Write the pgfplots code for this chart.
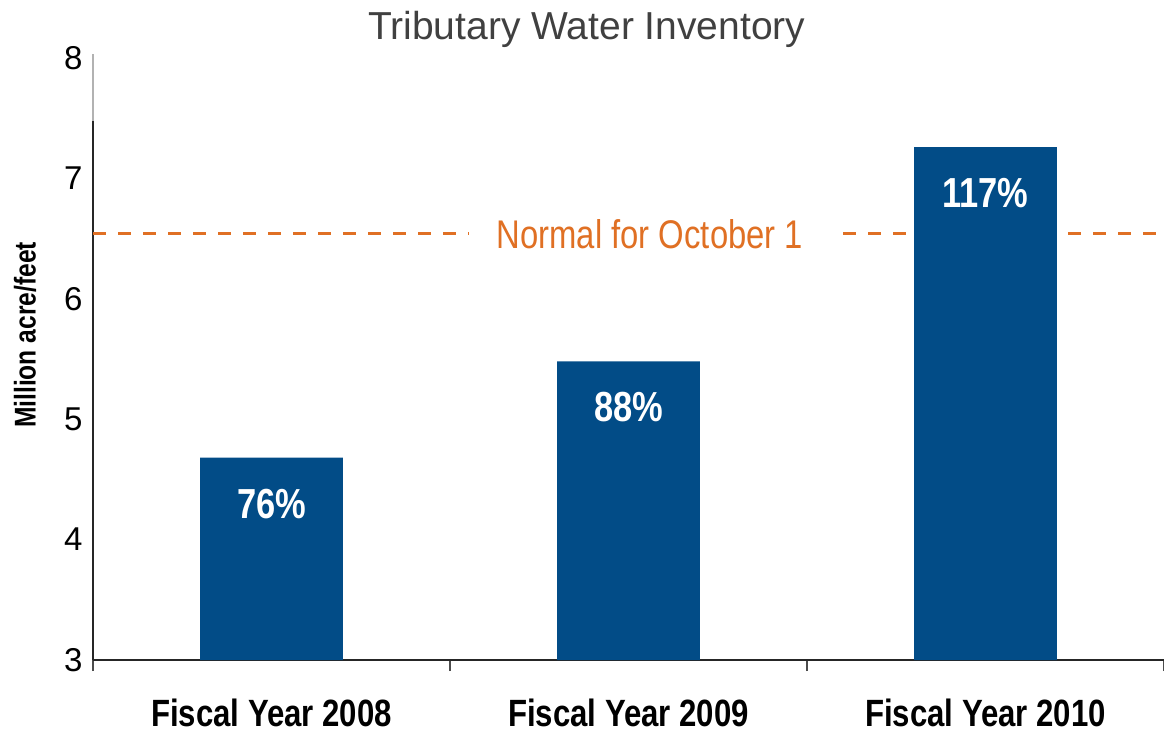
\documentclass[border=0pt]{standalone}
\usepackage{pgfplots}
\pgfplotsset{compat=1.18}
\usetikzlibrary{calc}
\usepackage{fontspec}
\setmainfont{Liberation Sans}
\newfontfamily\cond[FakeStretch=0.82]{Liberation Sans}
\definecolor{barblue}{RGB}{2,76,135}
\definecolor{normorange}{RGB}{224,112,36}
\definecolor{titlegray}{RGB}{64,64,64}
\begin{document}
\begin{tikzpicture}
\begin{axis}[
 name=ax,
 at={(0,0)}, anchor=south west,
 width=1071pt, height=602pt, scale only axis,
 xmin=-0.5, xmax=2.5, ymin=3, ymax=8,
 axis x line*=bottom, axis y line*=left,
 axis line style={black!85, line width=1.3pt},
 xtick={0,1,2},
 xticklabels={Fiscal Year 2008, Fiscal Year 2009, Fiscal Year 2010},
 minor xtick={-0.5,0.5,1.5,2.5},
 ytick={3,4,5,6,7,8},
 major tick length=0pt,
 minor tick length=11pt,
 tick align=outside,
 minor tick style={black!70, line width=1.5pt},
 xticklabel style={font=\cond\bfseries\fontsize{38}{38}\selectfont, anchor=base, text depth=0pt, yshift=-66pt},
 yticklabel style={font=\fontsize{33}{33}\selectfont, xshift=-7pt},
 /pgf/number format/assume math mode=true,
 ylabel={Million acre/feet},
 every axis y label/.style={at={(axis description cs:0,0.5)}, xshift=-68pt, yshift=24pt, rotate=90, anchor=center, font=\cond\bfseries\fontsize{30}{30}\selectfont},
 title={Tributary Water Inventory},
 every axis title/.style={at={(axis description cs:0.461,1)}, yshift=29pt, anchor=center, font=\fontsize{39}{39}\selectfont, text=titlegray},
 clip=false,
]
\addplot[normorange, line width=3pt, dash pattern=on 13pt off 12pt] coordinates {(-0.5,6.54) (2.5,6.54)};
\node[fill=white, inner xsep=28pt, inner ysep=4pt, text=normorange, font=\cond\fontsize{40}{40}\selectfont] at (axis cs:1.06,6.54) {Normal for October 1};
\draw[gray!60, line width=1.6pt] (axis cs:-0.5,7.48) -- (axis cs:-0.5,8.03);
\addplot[ybar, bar width=0.4, fill=barblue, draw=none,
  point meta=explicit symbolic, nodes near coords,
  every node near coord/.append style={anchor=center, yshift=-46pt, text=white, font=\cond\bfseries\fontsize{42}{42}\selectfont}]
 coordinates {(0,4.68) [76\%] (1,5.48) [88\%] (2,7.26) [117\%]};
\end{axis}
\pgfresetboundingbox
\path[use as bounding box] ($(ax.south west)+(-93pt,-73pt)$) rectangle ($(ax.north east)+(0pt,58pt)$);
\end{tikzpicture}
\end{document}
